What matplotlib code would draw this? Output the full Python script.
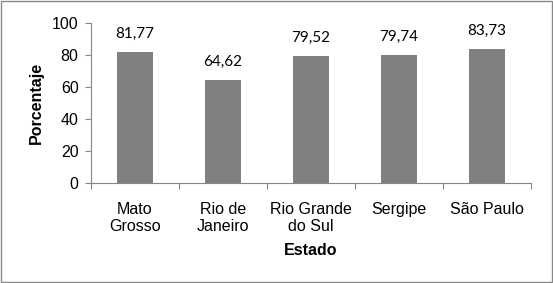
import matplotlib
matplotlib.use('Agg')
import matplotlib.pyplot as plt
from matplotlib.patches import Rectangle

estados = ['Mato\nGrosso', 'Rio de\nJaneiro', 'Rio Grande\ndo Sul', 'Sergipe', 'São Paulo']
porcentajes = [81.77, 64.62, 79.52, 79.74, 83.73]
value_labels = ['81,77', '64,62', '79,52', '79,74', '83,73']
y_ticks = [0, 20, 40, 60, 80, 100]

bar_color = '#808080'
axis_color = '#868686'

fig = plt.figure(figsize=(5.53, 2.83), dpi=100)
ax = fig.add_axes([91 / 553, 1 - 183 / 283, 440 / 553, 160 / 283])

x = range(len(estados))
bars = ax.bar(x, porcentajes, width=0.41, color=bar_color)

for bar, label in zip(bars, value_labels):
    ax.annotate(label, (bar.get_x() + bar.get_width() / 2, bar.get_height()),
                xytext=(0, 8), textcoords='offset points', ha='center', va='bottom',
                fontsize=11, family='Lato', color='black')

ax.set_xlim(-0.5, len(estados) - 0.5)
ax.set_ylim(0, 100)
ax.set_yticks(y_ticks)
ax.set_yticklabels([str(t) for t in y_ticks], family='Liberation Sans', fontsize=11.5)

# ticks between categories, labels centred on bars
ax.set_xticks([i - 0.5 for i in range(len(estados) + 1)])
ax.set_xticklabels([])
ax.set_xticks(list(x), minor=True)
ax.set_xticklabels(estados, minor=True, family='Liberation Sans', fontsize=11.5, linespacing=1.15)
ax.tick_params(axis='x', which='major', direction='out', length=4, color=axis_color)
ax.tick_params(axis='x', which='minor', length=0, pad=14)
ax.tick_params(axis='y', direction='out', length=4, color=axis_color, pad=5)

for side in ['top', 'right']:
    ax.spines[side].set_visible(False)
for side in ['left', 'bottom']:
    ax.spines[side].set_color(axis_color)
    ax.spines[side].set_linewidth(0.8)

ax.set_ylabel('Porcentaje', family='Liberation Sans', fontsize=11.5, fontweight='bold', labelpad=6)
ax.set_xlabel('Estado', family='Liberation Sans', fontsize=11.5, fontweight='bold', labelpad=6)

fig.patches.append(Rectangle((0.001, 0.002), 0.997, 0.995, transform=fig.transFigure,
                             fill=False, edgecolor='#888888', linewidth=1))

fig.savefig('out.png', dpi=100)
